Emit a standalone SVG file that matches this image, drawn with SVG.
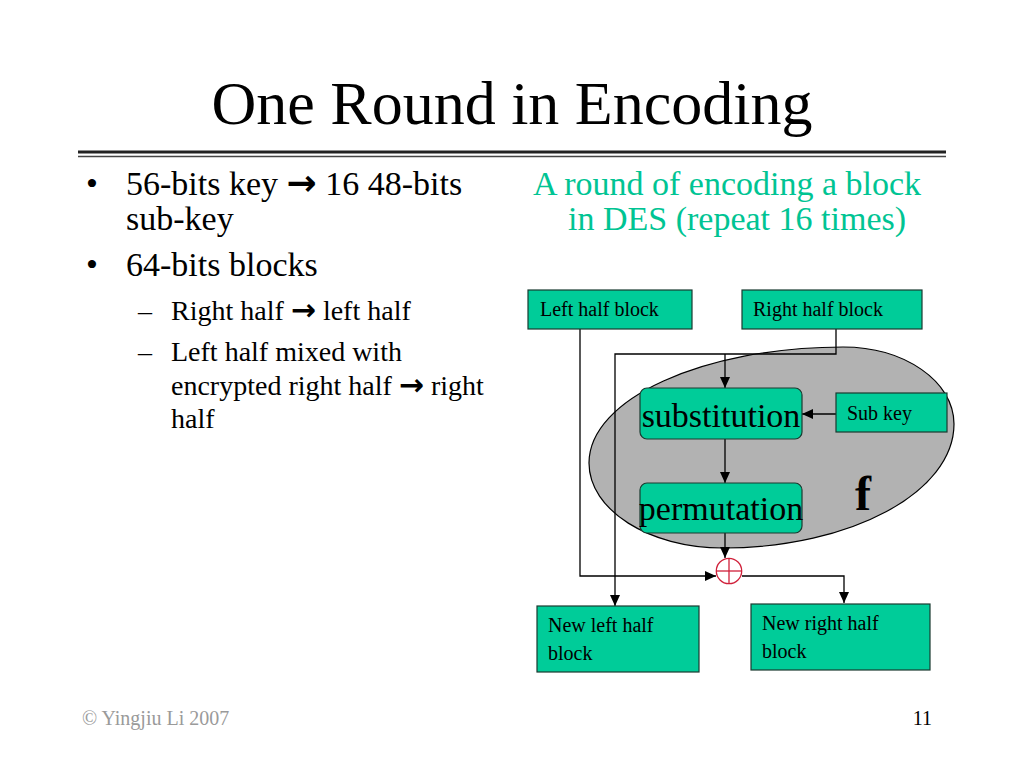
<svg xmlns="http://www.w3.org/2000/svg" width="1024" height="768" viewBox="0 0 1024 768">
<defs>
<style>
.t{font-family:"Liberation Serif","Times New Roman",serif;fill:#000}
.arr{font-family:"DejaVu Sans",sans-serif;font-weight:bold}
.box{fill:#00CC99;stroke:#1a3a30;stroke-width:1.2}
.ln{fill:none;stroke:#000;stroke-width:1.3}
.lbl{font-family:"Liberation Serif","Times New Roman",serif;font-size:20px;fill:#000}
.big{font-family:"Liberation Serif","Times New Roman",serif;font-size:34px;fill:#000}
</style>
<marker id="ah" markerUnits="userSpaceOnUse" markerWidth="11" markerHeight="10" refX="11" refY="5" orient="auto">
<path d="M0,0 L11,5 L0,10 z" fill="#000"/>
</marker>
</defs>
<rect width="1024" height="768" fill="#fff"/>

<text class="t" x="512" y="124" font-size="62" text-anchor="middle">One Round in Encoding</text>
<line x1="78" y1="152" x2="946" y2="152" stroke="#222" stroke-width="3"/>
<line x1="78" y1="156.5" x2="946" y2="156.5" stroke="#444" stroke-width="1.3"/>

<g id="bullets" class="t">
<text x="86" y="195" font-size="34">•</text>
<text x="126" y="195" font-size="34">56-bits key <tspan class="arr" font-size="36">→</tspan> 16 48-bits</text>
<text x="126" y="230" font-size="34">sub-key</text>
<text x="86" y="276" font-size="34">•</text>
<text x="126" y="276" font-size="34">64-bits blocks</text>
<text x="138" y="320" font-size="28">–</text>
<text x="171" y="320" font-size="28">Right half <tspan class="arr" font-size="30">→</tspan> left half</text>
<text x="138" y="361" font-size="28">–</text>
<text x="171" y="361" font-size="28">Left half mixed with</text>
<text x="171" y="395" font-size="28">encrypted right half <tspan class="arr" font-size="30">→</tspan> right</text>
<text x="171" y="428" font-size="28">half</text>
</g>

<g id="caption" font-family="Liberation Serif, Times New Roman, serif" font-size="34" fill="#00C493">
<text x="533" y="195">A round of encoding a block</text>
<text x="568" y="230">in DES (repeat 16 times)</text>
</g>

<g id="f-ellipse">
<path d="M589,463 C589,399 703,347 843,347 C904,347 954,381 954,424 C954,492 851,548 723,548 C649,548 589,510 589,463 Z" fill="#B2B2B2" stroke="#000" stroke-width="1.2"/>
<text x="855" y="510" font-family="Liberation Serif, Times New Roman, serif" font-size="48" font-weight="bold">f</text>
</g>

<g id="connectors">
<polyline class="ln" points="580,329 580,576 716,576" marker-end="url(#ah)"/>
<polyline class="ln" points="836,329 836,354 615,354 615,606" marker-end="url(#ah)"/>
<line class="ln" x1="725" y1="354" x2="725" y2="388" marker-end="url(#ah)"/>
<line class="ln" x1="836" y1="414" x2="802" y2="414" marker-end="url(#ah)"/>
<line class="ln" x1="725" y1="439" x2="725" y2="483" marker-end="url(#ah)"/>
<line class="ln" x1="725" y1="533" x2="725" y2="558" marker-end="url(#ah)"/>
<polyline class="ln" points="742,576 844,576 844,603" marker-end="url(#ah)"/>
</g>

<g id="xor">
<circle cx="729" cy="571" r="12.7" fill="#fff" stroke="#D0203A" stroke-width="1.3"/>
<line x1="716.3" y1="571" x2="741.7" y2="571" stroke="#D0203A" stroke-width="1.3"/>
<line x1="729" y1="558.3" x2="729" y2="583.7" stroke="#D0203A" stroke-width="1.3"/>
</g>

<g id="left-half-block">
<rect class="box" x="528" y="290" width="164" height="39"/>
<text class="lbl" x="540" y="316">Left half block</text>
</g>
<g id="right-half-block">
<rect class="box" x="742" y="290" width="180" height="39"/>
<text class="lbl" x="753" y="316">Right half block</text>
</g>
<g id="substitution">
<rect class="box" x="640" y="388" width="162" height="51" rx="7"/>
<text class="big" x="721" y="427" text-anchor="middle">substitution</text>
</g>
<g id="sub-key">
<rect class="box" x="836" y="393" width="111" height="39"/>
<text class="lbl" x="847" y="420">Sub key</text>
</g>
<g id="permutation">
<rect class="box" x="640" y="483" width="162" height="50" rx="7"/>
<text class="big" x="721" y="520" text-anchor="middle">permutation</text>
</g>
<g id="new-left-half-block">
<rect class="box" x="537" y="606" width="162" height="66"/>
<text class="lbl" x="548" y="632">New left half</text>
<text class="lbl" x="548" y="660">block</text>
</g>
<g id="new-right-half-block">
<rect class="box" x="751" y="604" width="179" height="66"/>
<text class="lbl" x="762" y="630">New right half</text>
<text class="lbl" x="762" y="658">block</text>
</g>

<g id="footer" font-family="Liberation Serif, Times New Roman, serif" font-size="20">
<text x="82" y="725" fill="#9A9A9A">© Yingjiu Li 2007</text>
<text x="932" y="725" text-anchor="end" fill="#000">11</text>
</g>
</svg>
